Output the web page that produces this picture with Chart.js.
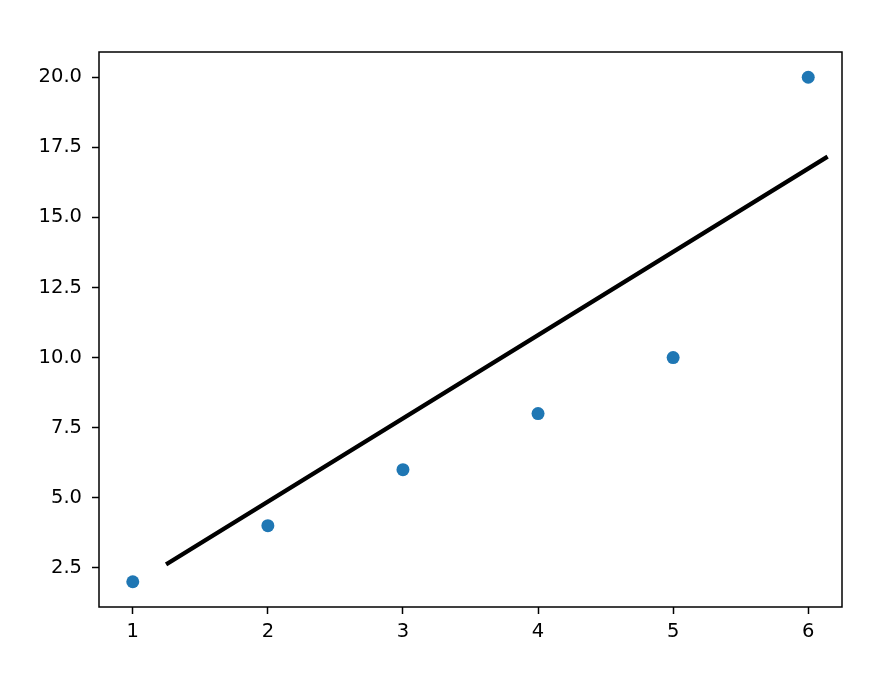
<!DOCTYPE html>
<html>
<head>
<meta charset="utf-8">
<script src="https://cdn.jsdelivr.net/npm/chart.js@4.4.0/dist/chart.umd.min.js"></script>
<style>
  html, body { margin: 0; padding: 0; background: #ffffff; }
  canvas { display: block; }
</style>
</head>
<body>
<canvas id="chart" width="891" height="673"></canvas>
<script>
// Data
var pointX = [1, 2, 3, 4, 5, 6];
var pointY = [2, 4, 6, 8, 10, 20];

// Fitted line, two end points
var lineX = [1.26, 6.13];
var lineY = [2.66, 17.13];

// Axis ticks
var xTicks = [1, 2, 3, 4, 5, 6];
var yTicks = [2.5, 5.0, 7.5, 10.0, 12.5, 15.0, 17.5, 20.0];

var tickFont = { family: 'DejaVu Sans', size: 19.5 };

function toXY(xs, ys) {
    return xs.map(function(x, i) {
        return { x: x, y: ys[i] };
    });
}

// Draws the frame round the plot area
var framePlugin = {
    id: 'frame',
    afterDatasetsDraw: function(chart) {
        var a = chart.chartArea;
        var ctx = chart.ctx;
        ctx.save();
        ctx.strokeStyle = '#000000';
        ctx.lineWidth = 1.5;
        ctx.strokeRect(a.left, a.top, a.right - a.left, a.bottom - a.top);
        ctx.restore();
    }
};

new Chart(document.getElementById('chart'), {
    type: 'scatter',
    data: {
        datasets: [
            {
                data: toXY(pointX, pointY),
                backgroundColor: '#1f77b4',
                borderColor: '#1f77b4',
                pointRadius: 6.5,
                pointBorderWidth: 0
            },
            {
                data: toXY(lineX, lineY),
                showLine: true,
                borderColor: '#000000',
                borderWidth: 4.3,
                borderCapStyle: 'square',
                pointRadius: 0
            }
        ]
    },
    options: {
        responsive: false,
        animation: false,
        layout: {
            padding: { left: 0, top: 52, right: 49, bottom: 0 }
        },
        plugins: {
            legend: { display: false },
            tooltip: { enabled: false }
        },
        scales: {
            x: {
                type: 'linear',
                min: 0.75,
                max: 6.25,
                afterBuildTicks: function(axis) {
                    axis.ticks = xTicks.map(function(v) { return { value: v }; });
                },
                afterFit: function(axis) {
                    axis.height = 66;
                },
                border: { display: false },
                grid: {
                    drawOnChartArea: false,
                    tickLength: 7,
                    tickWidth: 1.5,
                    tickColor: '#000000'
                },
                ticks: {
                    color: '#000000',
                    font: tickFont,
                    padding: 6,
                    maxRotation: 0,
                    callback: function(v) { return String(v); }
                }
            },
            y: {
                type: 'linear',
                min: 1.1,
                max: 20.9,
                afterBuildTicks: function(axis) {
                    axis.ticks = yTicks.map(function(v) { return { value: v }; });
                },
                afterFit: function(axis) {
                    axis.width = 99;
                },
                border: { display: false },
                grid: {
                    drawOnChartArea: false,
                    tickLength: 7,
                    tickWidth: 1.5,
                    tickColor: '#000000'
                },
                ticks: {
                    color: '#000000',
                    font: tickFont,
                    padding: 10,
                    callback: function(v) { return v.toFixed(1); }
                }
            }
        }
    },
    plugins: [framePlugin]
});
</script>
</body>
</html>
